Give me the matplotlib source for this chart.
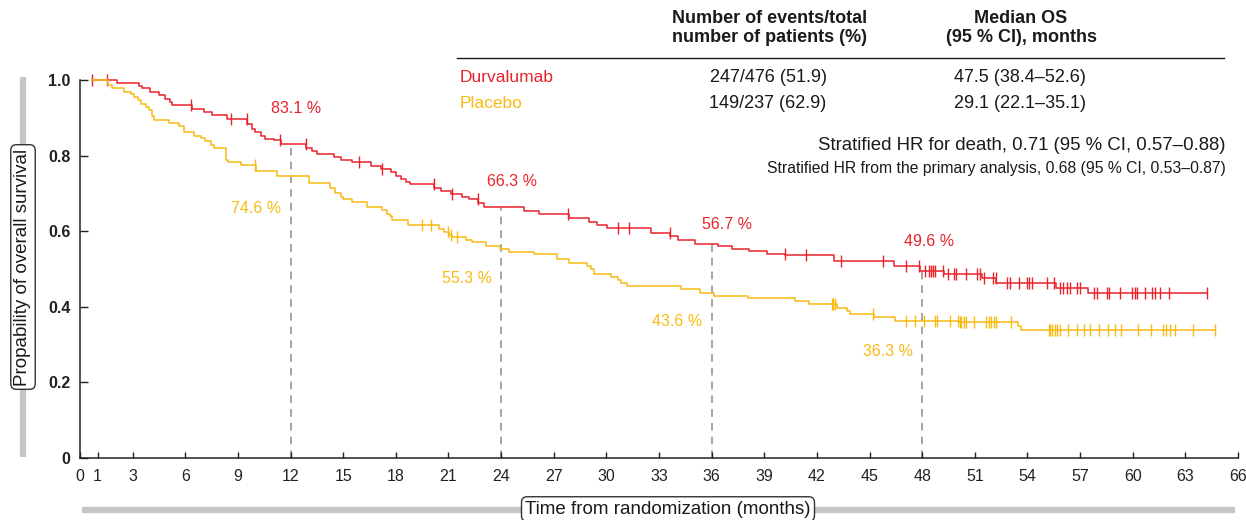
import numpy as np
import matplotlib.pyplot as plt
from matplotlib.lines import Line2D

plt.rcParams['font.family'] = ['Liberation Sans', 'DejaVu Sans']

W, H = 1246, 520

# Kaplan-Meier step data (months, survival after the event)
durva_t = [0.7, 2.13, 3.36, 3.55, 3.97, 4.5, 4.84, 5.11, 5.22, 6.4, 7.07, 7.54, 8.39,
           9.53, 9.78, 9.97, 10.3, 10.54, 11.05, 11.43, 12.9, 13.24, 13.52, 14.47,
           14.85, 15.52, 16.56, 17.13, 17.7, 17.99, 18.27, 18.6, 18.78, 20.17, 20.55,
           21.12, 21.78, 22.17, 22.7, 23.02, 25.3, 26.15, 27.85, 28.99, 29.47, 30.03,
           32.57, 33.65, 34.1, 35.03, 36.39, 37.15, 38.12, 39.18, 40.2, 42.98, 46.37,
           47.89, 49.25, 51.39, 52.23, 55.6, 57.45]
durva_s = [1.0, 0.991, 0.984, 0.978, 0.969, 0.960, 0.951, 0.942, 0.933, 0.924, 0.916,
           0.907, 0.898, 0.884, 0.871, 0.862, 0.853, 0.844, 0.840, 0.831, 0.820, 0.812,
           0.805, 0.797, 0.789, 0.782, 0.772, 0.764, 0.756, 0.747, 0.739, 0.731, 0.724,
           0.714, 0.707, 0.699, 0.691, 0.685, 0.674, 0.663, 0.653, 0.646, 0.635, 0.625,
           0.617, 0.609, 0.594, 0.586, 0.578, 0.567, 0.560, 0.553, 0.547, 0.541, 0.536,
           0.522, 0.507, 0.496, 0.487, 0.477, 0.462, 0.449, 0.437]
durva_end = 64.23
durva_cens = [0.7, 1.56, 6.3, 8.59, 9.5, 11.4, 12.86, 15.9, 17.19, 20.15, 21.2, 22.68,
              27.83, 30.65, 31.27, 33.6, 40.18, 41.38, 43.4, 45.76, 47.07, 47.8, 48.18,
              48.38, 48.5, 48.61, 48.73, 49.2, 49.45, 49.8, 49.95, 50.5, 51.13, 51.29,
              51.55, 52.04, 52.18, 52.86, 53.02, 53.5, 53.95, 54.1, 54.28, 55.1, 55.52,
              55.86, 56.05, 56.25, 56.45, 56.85, 56.99, 57.8, 57.98, 58.54, 58.64, 59.29,
              59.98, 60.13, 60.24, 60.72, 61.11, 61.27, 61.55, 62.07, 64.23]

plac_t = [0.7, 1.61, 1.84, 2.51, 2.89, 3.08, 3.32, 3.46, 3.74, 3.93, 4.08, 4.22, 5.07,
          5.64, 5.93, 6.5, 6.88, 7.12, 7.45, 7.64, 8.3, 8.45, 9.16, 10.01, 11.24, 13.05,
          14.23, 14.53, 14.85, 14.99, 15.48, 16.37, 17.23, 17.51, 17.65, 17.76, 18.71,
          20.46, 20.74, 21.03, 21.18, 21.98, 22.35, 23.15, 23.95, 24.43, 25.85, 27.2,
          27.88, 28.89, 29.14, 29.32, 30.27, 30.64, 30.83, 31.15, 34.28, 35.32, 36.15,
          38.05, 40.73, 41.57, 43.17, 43.73, 43.89, 45.24, 46.47, 50.1, 53.48, 53.64]
plac_s = [1.0, 0.987, 0.978, 0.969, 0.962, 0.955, 0.946, 0.937, 0.928, 0.920, 0.906,
          0.893, 0.886, 0.877, 0.862, 0.853, 0.846, 0.838, 0.829, 0.820, 0.789, 0.784,
          0.774, 0.759, 0.746, 0.728, 0.714, 0.701, 0.691, 0.685, 0.676, 0.664, 0.656,
          0.646, 0.639, 0.629, 0.616, 0.606, 0.599, 0.591, 0.585, 0.577, 0.571, 0.562,
          0.553, 0.546, 0.539, 0.527, 0.516, 0.509, 0.501, 0.487, 0.480, 0.470, 0.464,
          0.455, 0.447, 0.436, 0.429, 0.422, 0.415, 0.408, 0.396, 0.388, 0.382, 0.373,
          0.363, 0.359, 0.350, 0.339]
plac_end = 64.68
plac_cens = [9.98, 19.5, 19.98, 20.98, 21.12, 21.5, 42.85, 42.94, 43.03, 45.22, 47.07,
             47.6, 48.12, 48.71, 48.85, 49.57, 50.05, 50.17, 50.24, 50.36, 50.5, 50.96,
             51.65, 51.79, 51.93, 52.09, 52.23, 53.08, 55.2, 55.3, 55.42, 55.56, 55.69,
             55.86, 56.29, 56.85, 57.24, 57.58, 58.1, 58.6, 58.97, 59.33, 60.28, 61.05,
             61.75, 61.91, 62.15, 62.39, 63.43, 64.68]

landmarks = [12, 24, 36, 48]
durva_lm = [83.1, 66.3, 56.7, 49.6]
plac_lm = [74.6, 55.3, 43.6, 36.3]

xticks = [0, 1, 3, 6, 9, 12, 15, 18, 21, 24, 27, 30, 33, 36, 39, 42, 45, 48, 51, 54,
          57, 60, 63, 66]
yticks = [0, 0.2, 0.4, 0.6, 0.8, 1.0]
ytick_labels = ['0', '0.2', '0.4', '0.6', '0.8', '1.0']

RED = '#e8232b'
YEL = '#f8bb13'
INK = '#1a1a1a'


def surv_at(t, times, surv):
    i = np.searchsorted(times, t, side='right') - 1
    return np.asarray(surv)[np.clip(i, 0, len(surv) - 1)]


def fx(px):
    return px / W


def fy(py):
    return 1 - py / H


fig = plt.figure(figsize=(W / 100, H / 100), dpi=100)
ax = fig.add_axes([fx(80), fy(458), fx(1238) - fx(80), fy(80) - fy(458)])

for t, s, end, cens, col in [(durva_t, durva_s, durva_end, durva_cens, RED),
                             (plac_t, plac_s, plac_end, plac_cens, YEL)]:
    tt = list(t) + [end]
    ss = list(s) + [s[-1]]
    ax.step(tt, ss, where='post', color=col, lw=1.1, clip_on=False, zorder=3)
    cy = surv_at(cens, t, s)
    ax.plot(cens, cy, ls='none', marker='|', ms=9, mew=1.0, color=col,
            clip_on=False, zorder=3)

# landmark guides and labels
lm_red_y = surv_at(landmarks, durva_t, durva_s)
ax.vlines(landmarks, 0, lm_red_y, colors='#8c8c8c', linestyles=(0, (5, 4)), lw=1.1,
          zorder=1)
red_dx = [0.3, 0.6, 0.85, 0.4]
red_dy = [0.093, 0.069, 0.05, 0.077]
yel_dy = [-0.087, -0.079, -0.074, -0.081]
for i, t in enumerate(landmarks):
    ax.text(t + red_dx[i], durva_lm[i] / 100 + red_dy[i], f'{durva_lm[i]:.1f} %',
            color=RED, fontsize=11.5, ha='center', va='center')
    ax.text(t - 1.95, plac_lm[i] / 100 + yel_dy[i], f'{plac_lm[i]:.1f} %',
            color=YEL, fontsize=11.5, ha='center', va='center')

ax.set_xlim(0, 66)
ax.set_ylim(0, 1.0)
ax.set_xticks(xticks)
ax.set_xticklabels([str(v) for v in xticks])
ax.set_yticks(yticks)
ax.set_yticklabels(ytick_labels, fontweight='bold')
ax.spines['top'].set_visible(False)
ax.spines['right'].set_visible(False)
for sp in ('left', 'bottom'):
    ax.spines[sp].set_color('#222222')
    ax.spines[sp].set_linewidth(1.1)
ax.tick_params(axis='y', direction='in', length=6, width=1, pad=7, labelsize=11.5,
               colors='#222222')
ax.tick_params(axis='x', direction='in', length=4.5, width=1, pad=8, labelsize=11.5,
               colors='#222222')

# axis titles on grey bars
fig.add_artist(Line2D([fx(22.5), fx(22.5)], [fy(77), fy(457)], color='#c6c6c6', lw=4.5,
                      solid_capstyle='butt', zorder=0))
fig.add_artist(Line2D([fx(82), fx(1235)], [fy(510), fy(510)], color='#c6c6c6', lw=4.5,
                      solid_capstyle='butt', zorder=0))
box = dict(boxstyle='round,pad=0.2,rounding_size=0.3', fc='white', ec='#333333', lw=1)
fig.text(fx(23), fy(267), 'Propability of overall survival', rotation=90, ha='center',
         va='center', fontsize=13.5, color=INK, bbox=box)
fig.text(fx(668), fy(509), 'Time from randomization (months)', ha='center', va='center',
         fontsize=13.5, color=INK, bbox=box)

# summary table
fig.text(fx(770), fy(28), 'Number of events/total\nnumber of patients (%)', ha='center',
         va='center', fontsize=13, fontweight='bold', color=INK, linespacing=1.2)
fig.text(fx(1021), fy(28), 'Median OS\n(95 % CI), months', ha='center', va='center',
         fontsize=13, fontweight='bold', color=INK, linespacing=1.2)
fig.add_artist(Line2D([fx(457), fx(1224)], [fy(58), fy(58)], color=INK, lw=1))
rows = [('Durvalumab', '247/476 (51.9)', '47.5 (38.4–52.6)', RED, 77),
        ('Placebo', '149/237 (62.9)', '29.1 (22.1–35.1)', YEL, 103)]
for name, ev, med, col, py in rows:
    fig.text(fx(460), fy(py), name, ha='left', va='center', fontsize=12.5, color=col)
    fig.text(fx(768), fy(py), ev, ha='center', va='center', fontsize=13, color=INK)
    fig.text(fx(1020), fy(py), med, ha='center', va='center', fontsize=13, color=INK)
fig.text(fx(1226), fy(146), 'Stratified HR for death, 0.71 (95 % CI, 0.57–0.88)',
         ha='right', va='center', fontsize=13.4, color=INK)
fig.text(fx(1226), fy(169),
         'Stratified HR from the primary analysis, 0.68 (95 % CI, 0.53–0.87)',
         ha='right', va='center', fontsize=11.3, color=INK)

fig.savefig('out.png', dpi=100)
